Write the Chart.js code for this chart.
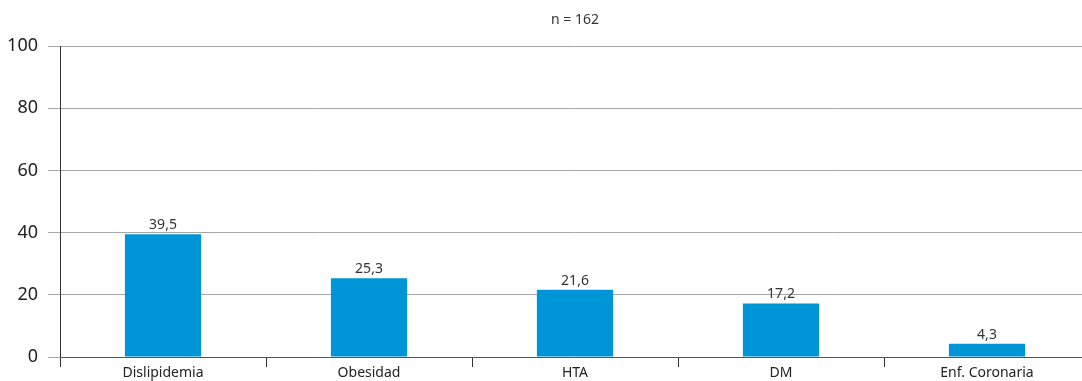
<!DOCTYPE html>
<html>
<head>
<meta charset="utf-8">
<script src="https://cdn.jsdelivr.net/npm/chart.js@4"></script>
<style>
  body { margin: 0; overflow: hidden; background: #fff; }
  canvas { display: block; }
</style>
</head>
<body>
<canvas id="myChart" width="1090" height="381"></canvas>
<script>
// valores
var categorias = ['Dislipidemia', 'Obesidad', 'HTA', 'DM', 'Enf. Coronaria'];
var valores = [39.5, 25.3, 21.6, 17.2, 4.3];
var etiquetas = ['39,5', '25,3', '21,6', '17,2', '4,3'];
var nota = 'n = 162';
var yTicks = [0, 20, 40, 60, 80, 100];

var fuente = '"Noto Sans", "DejaVu Sans", sans-serif';

// etiquetas encima de las barras + el "n = 162"
var textos = {
  id: 'textos',
  afterDatasetsDraw(chart) {
    let ctx = chart.ctx;
    let meta = chart.getDatasetMeta(0);
    ctx.save();
    ctx.fillStyle = '#333';
    ctx.font = '14px ' + fuente;
    ctx.textAlign = 'center';
    ctx.textBaseline = 'bottom';
    meta.data.forEach(function (bar, i) {
      ctx.fillText(etiquetas[i], bar.x, bar.y - 2);
    });
    let area = chart.chartArea;
    ctx.textBaseline = 'middle';
    ctx.fillText(nota, (area.left + area.right) / 2, 20);
    ctx.restore();
  }
};

const ctx = document.getElementById('myChart').getContext('2d');
var myChart = new Chart(ctx, {
  type: 'bar',
  data: {
    labels: categorias,
    datasets: [{
      data: valores,
      backgroundColor: '#0095d6',
      barPercentage: 0.37,
      categoryPercentage: 1
    }]
  },
  options: {
    responsive: false,
    animation: false,
    layout: { padding: { top: 46, left: 0, right: 0, bottom: 0 } },
    plugins: {
      legend: { display: false },
      tooltip: { enabled: false }
    },
    scales: {
      y: {
        min: 0,
        max: 100,
        afterBuildTicks: function (scale) {
          scale.ticks = yTicks.map(function (v) { return { value: v }; });
        },
        afterFit: function (scale) { scale.width = 60; },
        grid: { color: '#a6a6a6', tickLength: 12, lineWidth: 1 },
        border: { display: true, color: '#333' },
        ticks: {
          color: '#222',
          padding: 10,
          font: { family: fuente, size: 18 }
        }
      },
      x: {
        afterFit: function (scale) { scale.height = 24; },
        grid: {
          offset: true,
          drawOnChartArea: false,
          tickLength: 10,
          color: '#333'
        },
        border: { display: true, color: '#555' },
        ticks: {
          color: '#222',
          padding: -2,
          font: { family: fuente, size: 14 }
        }
      }
    }
  },
  plugins: [textos]
});
</script>
</body>
</html>
